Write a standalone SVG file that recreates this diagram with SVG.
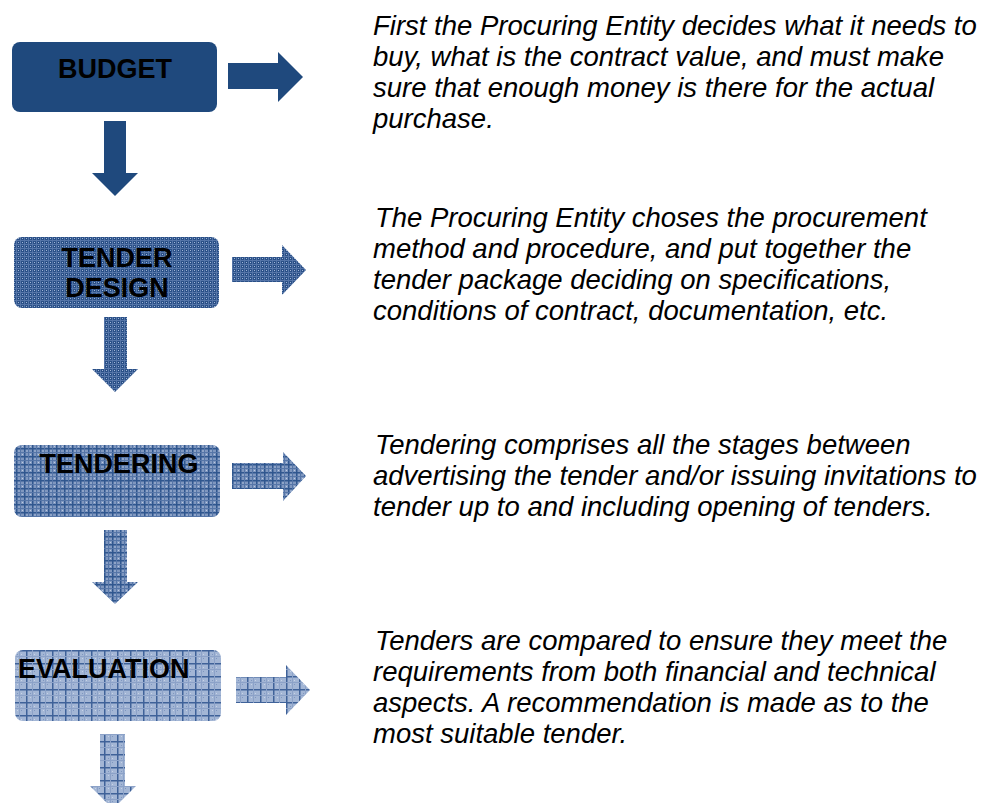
<svg xmlns="http://www.w3.org/2000/svg" width="986" height="803" viewBox="0 0 986 803">
<style>
.lbl{font-family:"Liberation Sans",Arial,sans-serif;font-weight:bold;font-size:27px;fill:#000}
.desc{font-family:"Liberation Sans",Arial,sans-serif;font-style:italic;font-size:27.5px;fill:#000}
</style>
<defs>
<pattern id="pDesign" width="4" height="4" patternUnits="userSpaceOnUse">
<rect width="4" height="4" fill="#2A5087"/>
<rect x="0" y="0" width="4" height="1" fill="#5575A8"/>
<rect x="0" y="0" width="1" height="4" fill="#5575A8"/>
<rect x="2" y="2" width="1" height="1" fill="#A0B5D6"/>
</pattern>
<pattern id="pTender" width="8" height="8" patternUnits="userSpaceOnUse">
<rect width="8" height="8" fill="#7F97BF"/>
<rect x="0" y="0" width="8" height="1.5" fill="#30578F"/>
<rect x="0" y="0" width="1.5" height="8" fill="#30578F"/>
<rect x="4" y="0" width="1" height="8" fill="#5676A8"/>
<rect x="0" y="4" width="8" height="1" fill="#5676A8"/>
<rect x="2.5" y="2.5" width="1" height="1" fill="#BCCBE2"/>
<rect x="6" y="6" width="1" height="1" fill="#BCCBE2"/>
</pattern>
<pattern id="pEval" width="13" height="13" patternUnits="userSpaceOnUse">
<rect width="13" height="13" fill="#A3B6D5"/>
<rect x="0" y="0" width="13" height="1.5" fill="#3F6299"/>
<rect x="0" y="0" width="1.5" height="13" fill="#3F6299"/>
<rect x="4" y="4" width="1" height="1" fill="#7E96BF"/>
<rect x="8" y="8" width="1" height="1" fill="#7E96BF"/>
<rect x="8" y="4" width="1" height="1" fill="#C7D3E7"/>
<rect x="4" y="8" width="1" height="1" fill="#C7D3E7"/>
<rect x="6" y="0" width="1" height="13" fill="#8CA2C8"/>
<rect x="0" y="6" width="13" height="1" fill="#8CA2C8"/>
</pattern>
</defs>
<rect width="986" height="803" fill="#fff"/>

<g id="connectors">
<polygon fill="#1F497D" points="228,63 278,63 278,52 303,77 278,102 278,89 228,89"/>
<polygon fill="#1F497D" points="104,121 126,121 126,173 138,173 115,196 92,173 104,173"/>
<polygon fill="url(#pDesign)" points="232,257 282,257 282,245 306,270 282,295 282,282 232,282"/>
<polygon fill="url(#pDesign)" points="104,317 127,317 127,369 138,369 115,392 92,369 104,369"/>
<polygon fill="url(#pTender)" points="232,463 283,463 283,452 306,476 283,501 283,489 232,489"/>
<polygon fill="url(#pTender)" points="104,530 127,530 127,582 138,582 115,604 92,582 104,582"/>
<polygon fill="url(#pEval)" points="236,677 286,677 286,665 310,690 286,715 286,703 236,703"/>
<polygon fill="url(#pEval)" points="100,734 125,734 125,786 136,786 113,809 90,786 100,786"/>
</g>

<g id="budget">
<rect x="12" y="42" width="205" height="70" rx="8" fill="#1F497D"/>
<text class="lbl" x="115" y="78" text-anchor="middle">BUDGET</text>
</g>
<g id="tender-design">
<rect x="14" y="237" width="205" height="71" rx="8" fill="url(#pDesign)"/>
<text class="lbl" x="117" y="267" text-anchor="middle">TENDER</text>
<text class="lbl" x="117" y="297" text-anchor="middle">DESIGN</text>
</g>
<g id="tendering">
<rect x="14" y="445" width="206" height="72" rx="8" fill="url(#pTender)"/>
<text class="lbl" x="119" y="473" text-anchor="middle">TENDERING</text>
</g>
<g id="evaluation">
<rect x="15" y="650" width="206" height="71" rx="8" fill="url(#pEval)"/>
<text class="lbl" x="18" y="678">EVALUATION</text>
</g>

<g id="desc-budget">
<text class="desc" x="373" y="35">First the Procuring Entity decides what it needs to</text>
<text class="desc" x="373" y="66">buy, what is the contract value, and must make</text>
<text class="desc" x="373" y="97">sure that enough money is there for the actual</text>
<text class="desc" x="373" y="128">purchase.</text>
</g>
<g id="desc-design">
<text class="desc" x="375" y="227">The Procuring Entity choses the procurement</text>
<text class="desc" x="373" y="258">method and procedure, and put together the</text>
<text class="desc" x="373" y="289">tender package deciding on specifications,</text>
<text class="desc" x="373" y="320">conditions of contract, documentation, etc.</text>
</g>
<g id="desc-tendering">
<text class="desc" x="375" y="454">Tendering comprises all the stages between</text>
<text class="desc" x="373" y="485">advertising the tender and/or issuing invitations to</text>
<text class="desc" x="373" y="516">tender up to and including opening of tenders.</text>
</g>
<g id="desc-evaluation">
<text class="desc" x="375" y="650">Tenders are compared to ensure they meet the</text>
<text class="desc" x="373" y="681">requirements from both financial and technical</text>
<text class="desc" x="373" y="712">aspects. A recommendation is made as to the</text>
<text class="desc" x="373" y="743">most suitable tender.</text>
</g>
</svg>
